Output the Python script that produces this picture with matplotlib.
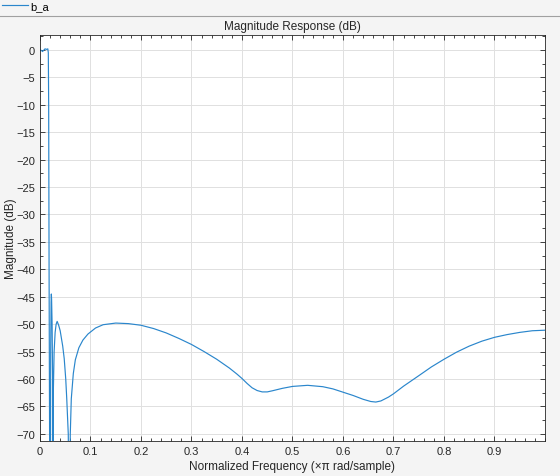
import matplotlib
matplotlib.use("Agg")
import matplotlib.pyplot as plt
from matplotlib.lines import Line2D
from matplotlib.ticker import MultipleLocator, FixedLocator

# Magnitude response (normalized freq, dB)
freq = [0.0, 0.003, 0.005, 0.008, 0.010, 0.013, 0.0155, 0.0165, 0.0172, 0.018,
        0.019, 0.0205, 0.0212, 0.022, 0.0225, 0.023, 0.024, 0.025, 0.0257,
        0.0265, 0.028, 0.030, 0.032, 0.034, 0.037, 0.040, 0.045, 0.048,
        0.051, 0.053, 0.056, 0.058, 0.060, 0.062, 0.066, 0.070, 0.077,
        0.085, 0.095, 0.11, 0.125, 0.15, 0.175, 0.2, 0.225, 0.25, 0.275,
        0.3, 0.325, 0.35, 0.375, 0.39, 0.40, 0.41, 0.42, 0.43, 0.44, 0.45,
        0.46, 0.48, 0.5, 0.53, 0.56, 0.58, 0.6, 0.62, 0.64, 0.655, 0.665,
        0.675, 0.69, 0.7, 0.72, 0.75, 0.775, 0.8, 0.825, 0.85, 0.875, 0.9,
        0.925, 0.95, 0.975, 1.0]
mag_db = [0.0, -0.1, -0.3, 0.0, 0.2, 0.1, 0.2, -0.5, -10.0, -40.0,
          -70.0, -90.0, -55.0, -46.0, -44.5, -45.5, -50.0, -60.0, -90.0,
          -62.0, -55.0, -51.5, -50.0, -49.5, -50.2, -51.2, -54.0, -56.3,
          -60.0, -63.6, -70.0, -90.0, -70.0, -63.6, -59.0, -56.5, -54.3,
          -52.9, -51.8, -50.7, -50.1, -49.8, -49.9, -50.2, -50.8, -51.6,
          -52.6, -53.7, -55.0, -56.4, -58.0, -59.1, -59.9, -60.8, -61.6,
          -62.1, -62.35, -62.35, -62.15, -61.7, -61.35, -61.15, -61.4,
          -61.8, -62.4, -63.0, -63.7, -64.1, -64.2, -64.0, -63.3, -62.7,
          -61.3, -59.4, -57.8, -56.4, -55.1, -54.0, -53.1, -52.4, -51.9,
          -51.5, -51.2, -51.1]

x_ticks = [0, 0.1, 0.2, 0.3, 0.4, 0.5, 0.6, 0.7, 0.8, 0.9]
x_tick_labels = ["0", "0.1", "0.2", "0.3", "0.4", "0.5", "0.6", "0.7", "0.8", "0.9"]
y_ticks = list(range(0, -75, -5))

plt.rcParams['font.family'] = ['Liberation Sans', 'DejaVu Sans']

fig = plt.figure(figsize=(5.6, 4.77), dpi=100, facecolor='#f4f4f4')
ax = fig.add_axes([0.0714, 0.0734, 0.9018, 0.852])
ax.set_facecolor('white')

line, = ax.plot(freq, mag_db, color='#2a86cc', linewidth=0.85, label='b_a')

ax.set_xlim(0, 1)
ax.set_ylim(-71.3, 2.8)
ax.xaxis.set_major_locator(FixedLocator(x_ticks))
ax.set_xticklabels(x_tick_labels)
ax.xaxis.set_minor_locator(MultipleLocator(0.02))
ax.yaxis.set_major_locator(FixedLocator(y_ticks))
ax.yaxis.set_minor_locator(MultipleLocator(2.5))

ax.grid(True, which='major', color='#e0e0e0', linewidth=0.7)
ax.set_axisbelow(True)
ax.tick_params(which='both', direction='in', top=True, right=True,
               colors='#262626', labelsize=8, width=0.6)
ax.tick_params(which='major', length=3.5)
ax.tick_params(which='minor', length=2)
for sp in ax.spines.values():
    sp.set_color('#262626')
    sp.set_linewidth(0.6)

ax.set_title('Magnitude Response (dB)', fontsize=8.5, color='#262626', pad=4)
ax.set_xlabel('Normalized Frequency (\u00d7\u03c0 rad/sample)', fontsize=8.5,
              color='#262626', labelpad=3)
ax.set_ylabel('Magnitude (dB)', fontsize=8.5, color='#262626', va='center')
ax.yaxis.set_label_coords(-0.058, 0.5)

# top legend strip with separator line
fig.add_artist(Line2D([0, 1], [1 - 17 / 477, 1 - 17 / 477], color='#a0a0a0',
                      linewidth=0.8, transform=fig.transFigure))
fig.legend(handles=[line], loc='upper left', bbox_to_anchor=(0.0, 1.0),
           frameon=False, fontsize=8, handlelength=2.4, handletextpad=0.2,
           borderaxespad=0.0, borderpad=0.15)

fig.savefig('out.png', dpi=100, facecolor=fig.get_facecolor())
